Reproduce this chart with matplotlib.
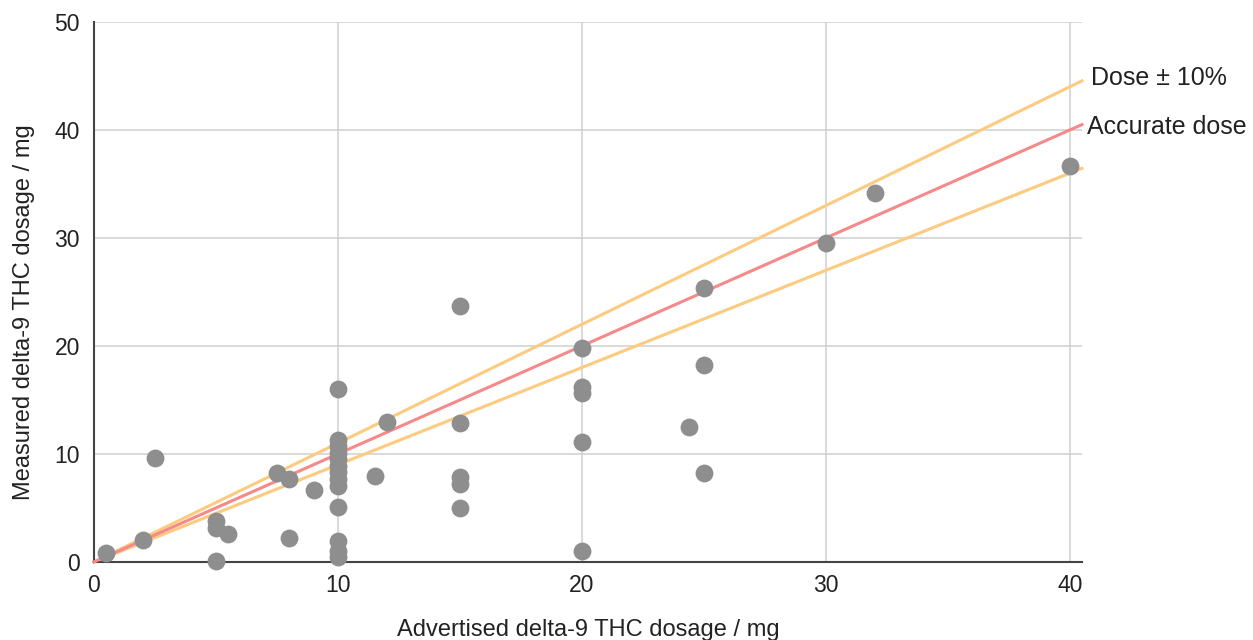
import numpy as np
import matplotlib.pyplot as plt

#- Data:

advertised = [0.5, 2, 2.5, 5, 5, 5.5, 5,
              7.5, 8, 8, 9,
              10, 10, 10, 10, 10, 10, 10, 10, 10, 10, 10, 10, 10,
              11.5, 12,
              15, 15, 15, 15, 15,
              20, 20, 20, 20, 20,
              24.4, 25, 25, 25,
              30, 32, 40]
measured = [0.8, 2.0, 9.6, 3.8, 3.1, 2.6, 0.1,
            8.2, 7.7, 2.2, 6.7,
            16.0, 11.3, 10.7, 10.1, 9.5, 8.9, 8.3, 7.7, 7.0, 5.1, 1.9, 1.0, 0.5,
            8.0, 13.0,
            23.7, 12.9, 7.9, 7.2, 5.0,
            19.8, 16.2, 15.6, 11.1, 1.0,
            12.5, 25.4, 18.2, 8.2,
            29.5, 34.2, 36.7]

line_x = [0, 40.5]
tolerance = 0.10

plt.rcParams['font.family'] = ['Liberation Sans', 'DejaVu Sans']

fig = plt.figure(figsize=(12.53, 6.40), dpi=100)
ax = fig.add_axes([0.075, 0.122, 0.7885, 0.8436])

x_line = np.array(line_x)
ax.plot(x_line, x_line * (1 + tolerance), color='#fccb80', lw=2.2, zorder=2, clip_on=False)
ax.plot(x_line, x_line * (1 - tolerance), color='#fccb80', lw=2.2, zorder=2, clip_on=False)
ax.plot(x_line, x_line, color='#f6898a', lw=2.2, zorder=3, clip_on=False)

ax.scatter(advertised, measured, s=165, color='#8e8e8e', zorder=4, clip_on=False, linewidths=0)

ax.text(40.72, 40.3, 'Accurate dose', fontsize=18, color='#222222', va='center', ha='left')
ax.text(40.85, 44.8, 'Dose \u00b1 10%', fontsize=18, color='#222222', va='center', ha='left')

ax.set_xlim(0, 40.5)
ax.set_ylim(0, 50)
ax.set_xticks([0, 10, 20, 30, 40])
ax.set_yticks([0, 10, 20, 30, 40, 50])
ax.grid(True, color='#d3d3d3', lw=1.2)
ax.set_axisbelow(True)
ax.tick_params(length=0, labelsize=16.5, colors='#222222')
ax.tick_params(axis='x', pad=9)
ax.tick_params(axis='y', pad=10)

for side in ['top', 'right']:
    ax.spines[side].set_visible(False)
for side in ['left', 'bottom']:
    ax.spines[side].set_color('#444444')
    ax.spines[side].set_linewidth(1.5)

ax.set_xlabel('Advertised delta-9 THC dosage / mg', fontsize=17, color='#222222')
ax.set_ylabel('Measured delta-9 THC dosage / mg', fontsize=17, color='#222222')
ax.xaxis.set_label_coords(0.5, -0.106)
ax.yaxis.set_label_coords(-0.06, 0.463)

fig.savefig('out.png', dpi=100)
